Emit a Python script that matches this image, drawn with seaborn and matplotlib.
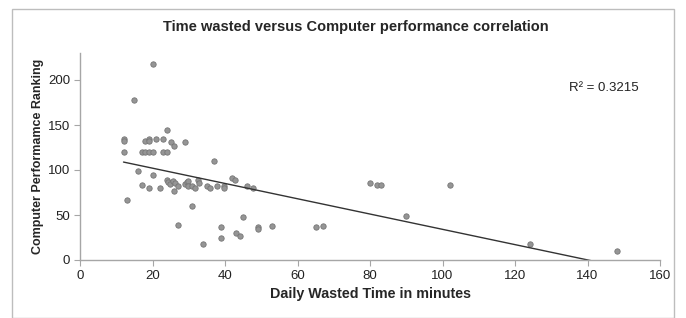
import numpy as np
import pandas as pd
import matplotlib
matplotlib.use("Agg")
import matplotlib.pyplot as plt
import seaborn as sns
from matplotlib.patches import Rectangle

wasted_minutes = [
    20, 15, 24, 12, 12, 18, 19, 19, 21, 23, 25, 26, 29,
    12, 17, 18, 19, 20, 23, 24,
    16, 20, 17, 19, 22, 13,
    23.9, 24.4, 24.8, 25.7, 26.2, 26.9, 26.0, 29.0, 29.4, 29.9, 29.9, 30.8,
    31.7, 32.6, 32.9, 34.9, 35.9, 37.7, 39.8, 39.8, 42.0, 42.8, 46.0, 47.8,
    31, 37, 27, 34, 39, 39, 43, 44, 45, 49, 49, 53, 65, 67,
    80, 82, 83, 90, 102, 124, 148,
]
performance_rank = [
    218, 178, 145, 135, 132, 132, 135, 132, 135, 135, 131.5, 127, 131.5,
    120, 120, 120, 120, 120, 120, 120,
    98.5, 94.4, 83, 80, 80.4, 66.7,
    88.5, 86.3, 84.4, 88.1, 85.2, 82.6, 76.7, 84.8, 87, 88.1, 82.6, 82.6,
    80.4, 88.9, 86, 82.6, 80.4, 82.6, 82.6, 79.6, 91.5, 88.9, 82.6, 80.4,
    60, 109.6, 39, 18, 37, 24, 29.6, 26.3, 48, 37, 34, 38, 37, 38,
    86, 83, 83, 49, 83, 18, 10,
]
x_ticks = [0, 20, 40, 60, 80, 100, 120, 140, 160]
y_ticks = [0, 50, 100, 150, 200]
r_squared_label = "R² = 0.3215"

df = pd.DataFrame({"wasted": wasted_minutes, "rank": performance_rank})

sns.set_style("white")
plt.rcParams["font.family"] = ["Liberation Sans", "DejaVu Sans"]

fig = plt.figure(figsize=(6.86, 3.18), dpi=100)
ax = fig.add_axes([80/686, 58/318, 580/686, 207/318])

sns.regplot(data=df, x="wasted", y="rank", ax=ax, ci=None,
            scatter_kws=dict(s=15, color="#959595", edgecolor="#767676", linewidths=0.6, alpha=1),
            line_kws=dict(color="#333333", linewidth=1.0))

ax.set_xlim(0, 160)
ax.set_ylim(0, 230)
ax.set_xticks(x_ticks)
ax.set_yticks(y_ticks)
for s in ["top", "right"]:
    ax.spines[s].set_visible(False)
for s in ["left", "bottom"]:
    ax.spines[s].set_color("#a6a6a6")
    ax.spines[s].set_linewidth(1.0)
ax.tick_params(axis="both", direction="out", length=4, width=0.8, color="#a6a6a6",
               labelsize=9.5, labelcolor="#222222", pad=3)
ax.tick_params(axis="x", bottom=True)
ax.tick_params(axis="y", left=True)

ax.set_xlabel("Daily Wasted Time in minutes", fontsize=10.3, fontweight="bold", labelpad=4)
ax.set_ylabel("Computer Performamce Ranking", fontsize=9, fontweight="bold", labelpad=3)

fig.text(356/686, 1 - 27/318, "Time wasted versus Computer performance correlation",
         ha="center", va="center", fontsize=10.5, fontweight="bold")

fig.text(604/686, 1 - 88/318, r_squared_label, ha="center", va="center",
         fontsize=9.5, color="#222222")

fig.patches.append(Rectangle((12/686, 0), 662/686, 1 - 9/318, transform=fig.transFigure,
                             fill=False, edgecolor="#bdbdbd", linewidth=1.0))

fig.savefig("out.png", dpi=100)
